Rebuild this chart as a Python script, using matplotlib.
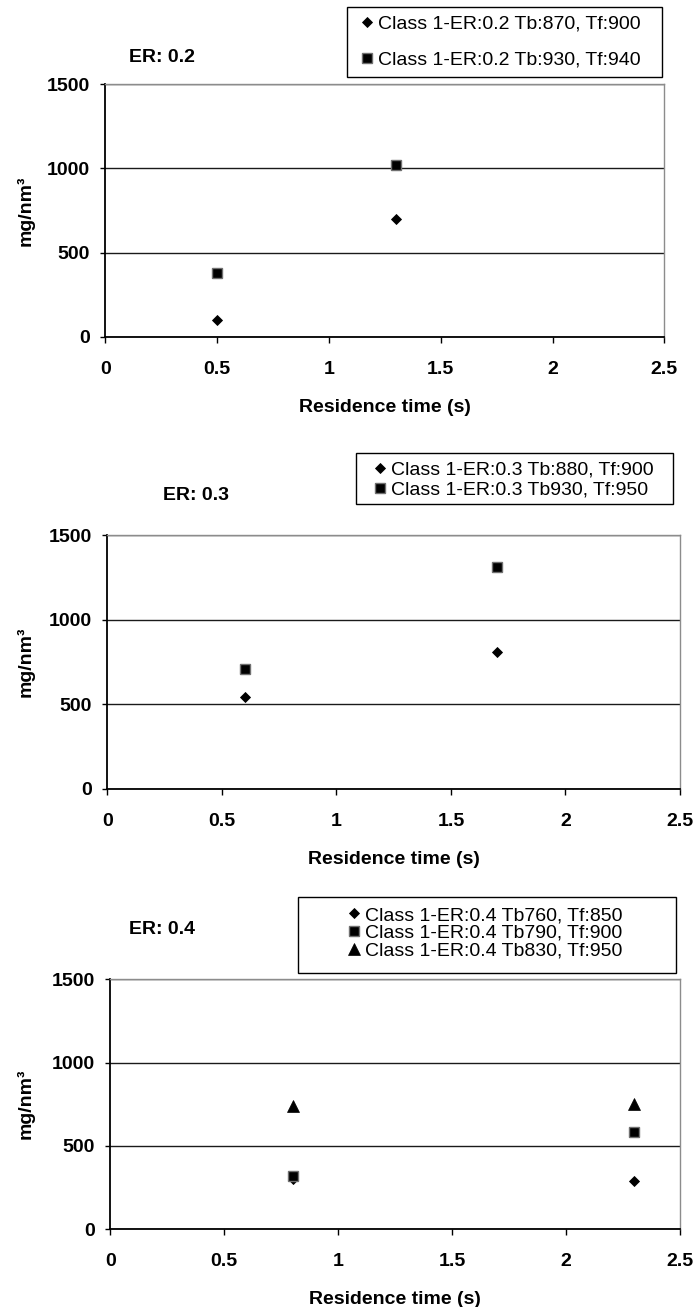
import matplotlib
matplotlib.use("Agg")
import matplotlib.pyplot as plt
from matplotlib.lines import Line2D
from matplotlib.patches import Rectangle

plt.rcParams['font.family'] = ['Liberation Sans', 'DejaVu Sans']

W, H, DPI = 698, 1307, 100

# ---------------- data ----------------
er02_x = [0.5, 1.3]
er02_diamond = [100, 700]
er02_square = [380, 1020]

er03_x = [0.6, 1.7]
er03_diamond = [545, 810]
er03_square = [710, 1310]

er04_x = [0.8, 2.3]
er04_diamond = [300, 290]
er04_square = [320, 580]
er04_triangle = [740, 750]

titles = ["ER: 0.2", "ER: 0.3", "ER: 0.4"]
labels_02 = ["Class 1-ER:0.2 Tb:870, Tf:900", "Class 1-ER:0.2 Tb:930, Tf:940"]
labels_03 = ["Class 1-ER:0.3 Tb:880, Tf:900", "Class 1-ER:0.3 Tb930, Tf:950"]
labels_04 = ["Class 1-ER:0.4 Tb760, Tf:850", "Class 1-ER:0.4 Tb790, Tf:900",
             "Class 1-ER:0.4 Tb830, Tf:950"]
xticks = [0, 0.5, 1, 1.5, 2, 2.5]
xticklabels = ["0", "0.5", "1", "1.5", "2", "2.5"]
yticks = [0, 500, 1000, 1500]
yticklabels = ["0", "500", "1000", "1500"]
xlabel = "Residence time (s)"
ylabel = "mg/nm\u00b3"

# ---------------- styles ----------------
FS = 14
STY = {
    'diamond': dict(marker='D', markersize=5.3, markerfacecolor='black',
                    markeredgecolor='black', markeredgewidth=0.6),
    'square': dict(marker='s', markersize=7, markerfacecolor='black',
                   markeredgecolor='#707070', markeredgewidth=1.0),
    'triangle': dict(marker='^', markersize=8, markerfacecolor='black',
                     markeredgecolor='black', markeredgewidth=0.5),
}


def fr(left, top, right, bottom):
    return [left / W, 1 - bottom / H, (right - left) / W, (bottom - top) / H]


fig = plt.figure(figsize=(W / DPI, H / DPI), dpi=DPI)
fig.patch.set_facecolor('white')

panels = [
    dict(rect=(105.3, 84.3, 664.3, 336.7), x=er02_x,
         series=[('diamond', er02_diamond), ('square', er02_square)],
         labels=labels_02, title=titles[0], title_xy=(162, 57),
         box=(347, 7, 662, 77), leg_left=361.5, leg_cy=42, leg_sp=0.93),
    dict(rect=(107.3, 535.0, 680.0, 788.7), x=er03_x,
         series=[('diamond', er03_diamond), ('square', er03_square)],
         labels=labels_03, title=titles[1], title_xy=(196, 495),
         box=(356, 452.7, 673, 504), leg_left=374.0, leg_cy=479.7, leg_sp=0.14),
    dict(rect=(110.3, 979.3, 680.0, 1229.0), x=er04_x,
         series=[('diamond', er04_diamond), ('square', er04_square),
                 ('triangle', er04_triangle)],
         labels=labels_04, title=titles[2], title_xy=(162, 930),
         box=(298, 897, 676, 972.5), leg_left=348.5, leg_cy=933, leg_sp=0.0),
]

for p in panels:
    l, t, r, b = p['rect']
    ax = fig.add_axes(fr(l, t, r, b))
    ax.set_xlim(0, 2.5)
    ax.set_ylim(0, 1500)
    ax.set_axisbelow(True)
    ax.yaxis.grid(True, color='#1a1a1a', linewidth=1.0)
    ax.xaxis.grid(False)
    for s in ['top', 'right']:
        ax.spines[s].set_color('#8c8c8c')
        ax.spines[s].set_linewidth(1.0)
    for s in ['left', 'bottom']:
        ax.spines[s].set_color('black')
        ax.spines[s].set_linewidth(1.3)

    handles = []
    for kind, vals in p['series']:
        ax.plot(p['x'], vals, linestyle='none', **STY[kind], zorder=3)
        handles.append(Line2D([], [], linestyle='none', **STY[kind]))

    ax.set_xticks(xticks)
    ax.set_xticklabels(xticklabels)
    ax.set_yticks(yticks)
    ax.set_yticklabels(yticklabels)
    ax.tick_params(axis='x', direction='out', length=4.3, width=1.0, pad=13.0,
                   labelsize=FS, color='black')
    ax.tick_params(axis='y', direction='out', length=3.6, width=1.0, pad=7.4,
                   labelsize=FS, color='black')
    for lab in ax.get_xticklabels() + ax.get_yticklabels():
        lab.set_fontweight('bold')

    ax.set_xlabel(xlabel, fontsize=FS, fontweight='bold')
    ax.xaxis.set_label_coords(0.5, -(399 - 336.7) / 252.4)
    ax.xaxis.label.set_va('top')
    ax.set_ylabel(ylabel, fontsize=FS, fontweight='bold')
    ax.yaxis.set_label_coords((34.5 - l) / (r - l), 0.5)

    # title
    tx, ty = p['title_xy']
    fig.text(tx / W, 1 - ty / H, p['title'], fontsize=FS, fontweight='bold',
             ha='center', va='center')

    # legend frame
    bl, bt, br, bb = p['box']
    fig.patches.append(Rectangle((bl / W, 1 - bb / H), (br - bl) / W, (bb - bt) / H,
                                 transform=fig.transFigure, facecolor='white',
                                 edgecolor='black', linewidth=1.0, zorder=1))
    fig.legend(handles, p['labels'], loc='center left',
               bbox_to_anchor=(p['leg_left'] / W, 1 - p['leg_cy'] / H),
               frameon=False, borderpad=0, borderaxespad=0, handlelength=0.6,
               handletextpad=0.25, labelspacing=p['leg_sp'], fontsize=FS,
               numpoints=1)

fig.savefig('out.png', dpi=DPI, facecolor='white')
